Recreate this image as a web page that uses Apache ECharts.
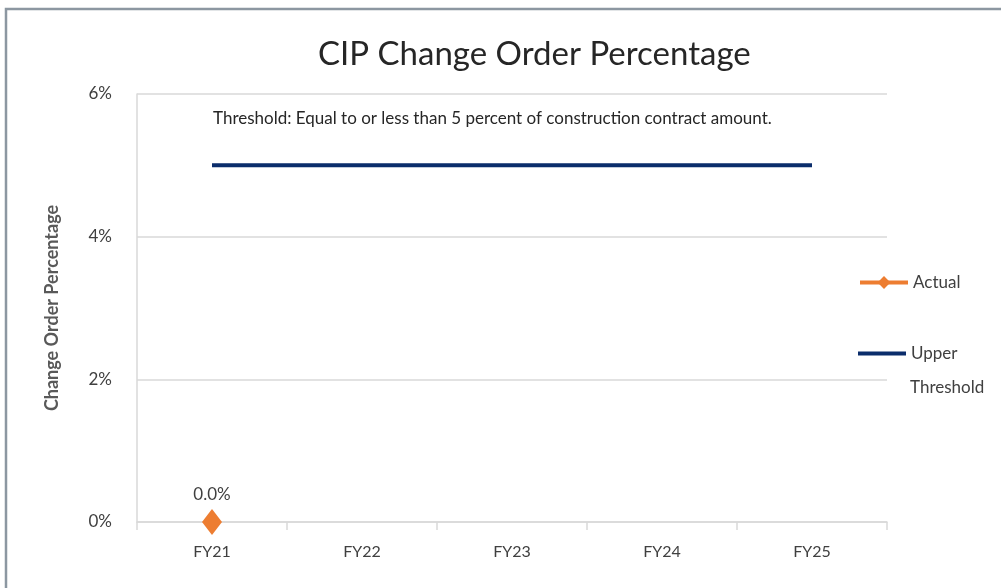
<!DOCTYPE html>
<html>
<head>
<meta charset="utf-8">
<script src="https://cdn.jsdelivr.net/npm/echarts@6/dist/echarts.min.js"></script>
<style>
  html, body { margin: 0; padding: 0; background: #fff; }
  #chart { width: 1001px; height: 588px; }
</style>
</head>
<body>
<div id="chart"></div>
<script>
// chart data
var years = ['FY21', 'FY22', 'FY23', 'FY24', 'FY25'];
var actual = [0, '-', '-', '-', '-'];
var upperThreshold = [5, 5, 5, 5, 5];
var yTicks = [0, 2, 4, 6];

var chartDom = document.getElementById('chart');
var myChart = echarts.init(chartDom);
var font = 'Lato';
var option;

option = {
  animation: false,
  textStyle: { fontFamily: font },
  graphic: [
    {
      type: 'rect',
      z: -1,
      shape: { x: 6, y: 9, width: 1100, height: 700 },
      style: { fill: 'none', stroke: '#8c97a1', lineWidth: 2.5 }
    },
    {
      type: 'text',
      left: 910,
      top: 379,
      style: { text: 'Threshold', font: '17px Lato', fill: '#404040' }
    }
  ],
  title: [
    {
      text: 'CIP Change Order Percentage',
      left: 318,
      top: 38,
      padding: 0,
      textStyle: { fontSize: 33, fontWeight: 'normal', color: '#262626', fontFamily: font }
    },
    {
      text: 'Threshold: Equal to or less than 5 percent of construction contract amount.',
      left: 213,
      top: 110,
      padding: 0,
      textStyle: { fontSize: 17, fontWeight: 'normal', color: '#262626', fontFamily: font }
    }
  ],
  legend: [
    {
      data: ['Actual'],
      orient: 'vertical',
      left: 858,
      top: 274,
      padding: 0,
      itemWidth: 48,
      itemHeight: 16,
      lineStyle: { width: 4 },
      textStyle: { fontSize: 17, color: '#404040' }
    },
    {
      data: [{ name: 'Upper Threshold', icon: 'rect' }],
      orient: 'vertical',
      left: 858,
      top: 345,
      padding: 0,
      itemWidth: 48,
      itemHeight: 4,
      formatter: function () { return 'Upper'; },
      textStyle: { fontSize: 17, color: '#404040' }
    }
  ],
  grid: { left: 137, right: 114, top: 94, bottom: 66 },
  xAxis: {
    type: 'category',
    data: years,
    boundaryGap: true,
    axisLine: { lineStyle: { color: '#d9d9d9', width: 1.5 } },
    axisTick: { show: true, length: 8, lineStyle: { color: '#d9d9d9', width: 1.5 } },
    axisLabel: { fontSize: 16, color: '#404040', margin: 22 }
  },
  yAxis: {
    type: 'value',
    min: yTicks[0],
    max: yTicks[yTicks.length - 1],
    interval: 2,
    name: 'Change Order Percentage',
    nameLocation: 'middle',
    nameGap: 76,
    nameTextStyle: { fontSize: 18, fontWeight: 'bold', color: '#595959' },
    axisLine: { show: true, lineStyle: { color: '#d9d9d9', width: 1.5 } },
    axisTick: { show: false },
    splitLine: { lineStyle: { color: '#d9d9d9', width: 1.5 } },
    axisLabel: { fontSize: 17, color: '#404040', margin: 25, formatter: '{value}%' }
  },
  series: [
    {
      name: 'Actual',
      type: 'line',
      data: actual,
      symbol: 'diamond',
      symbolSize: [20, 26],
      itemStyle: { color: '#ed7d31' },
      lineStyle: { color: '#ed7d31', width: 4 },
      label: {
        show: true,
        position: 'top',
        distance: 6,
        fontSize: 17,
        color: '#404040',
        formatter: function (p) { return p.value.toFixed(1) + '%'; }
      }
    },
    {
      name: 'Upper Threshold',
      type: 'line',
      data: upperThreshold,
      symbol: 'none',
      itemStyle: { color: '#0b2d6b' },
      lineStyle: { color: '#0b2d6b', width: 4 }
    }
  ]
};

option && myChart.setOption(option);
</script>
</body>
</html>
